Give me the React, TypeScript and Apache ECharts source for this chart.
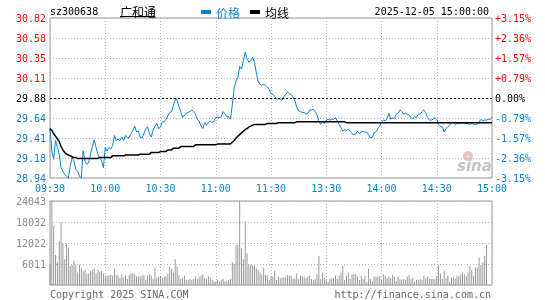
import React, { useEffect, useRef } from "react";
import * as echarts from "echarts";

const stockCode = "sz300638";
const stockName = "广和通";
const dateText = "2025-12-05 15:00:00";
const prevClose = 29.88;
const priceMin = 28.94;
const priceMax = 30.82;
const priceStep = 0.235;
const volMax = 24043;

const timeLabels = ["09:30", "10:00", "10:30", "11:00", "11:30", "13:30", "14:00", "14:30", "15:00"];
const priceLabels = ["28.94", "29.18", "29.41", "29.64", "29.88", "30.11", "30.35", "30.58", "30.82"];
const pctLabels = ["-3.15%", "-2.36%", "-1.57%", "-0.79%", "0.00%", "+0.79%", "+1.57%", "+2.36%", "+3.15%"];
const volLabels = ["", "6011", "12022", "18032", "24043"];

const price = [
  29.52, 29.26, 29.16, 29.38, 29.30, 29.22, 29.06, 29.02, 28.98, 28.96,
  28.94, 29.08, 29.18, 29.14, 29.04, 29.02, 28.96, 28.94, 29.26, 29.14,
  29.10, 29.12, 29.22, 29.31, 29.39, 29.30, 29.22, 29.18, 29.14, 29.06,
  29.30, 29.26, 29.30, 29.28, 29.32, 29.44, 29.38, 29.40, 29.38, 29.42,
  29.38, 29.44, 29.41, 29.42, 29.46, 29.50, 29.55, 29.48, 29.49, 29.42,
  29.41, 29.46, 29.52, 29.54, 29.46, 29.42, 29.50, 29.55, 29.58, 29.52,
  29.54, 29.60, 29.60, 29.63, 29.67, 29.71, 29.72, 29.79, 29.86, 29.86,
  29.78, 29.72, 29.65, 29.68, 29.70, 29.71, 29.72, 29.74, 29.72, 29.69,
  29.63, 29.61, 29.55, 29.52, 29.59, 29.56, 29.59, 29.61, 29.59, 29.61,
  29.65, 29.65, 29.65, 29.66, 29.72, 29.69, 29.66, 29.66, 29.63, 29.80,
  30.00, 30.08, 30.12, 30.25, 30.22, 30.32, 30.42, 30.34, 30.30, 30.32,
  30.36, 30.30, 30.18, 30.08, 30.04, 30.03, 30.04, 30.03, 30.01, 29.98,
  29.93, 29.92, 29.90, 29.87, 29.87, 29.87, 29.85, 29.90, 29.92, 29.95,
  29.93, 29.92, 29.89, 29.85, 29.77, 29.73, 29.72, 29.71, 29.71, 29.69,
  29.70, 29.74, 29.74, 29.75, 29.72, 29.68, 29.61, 29.57, 29.61, 29.58,
  29.62, 29.63, 29.62, 29.63, 29.63, 29.65, 29.61, 29.57, 29.53, 29.49,
  29.51, 29.50, 29.51, 29.49, 29.46, 29.45, 29.46, 29.49, 29.46, 29.48,
  29.49, 29.48, 29.48, 29.45, 29.41, 29.42, 29.47, 29.48, 29.52, 29.55,
  29.59, 29.62, 29.61, 29.64, 29.70, 29.63, 29.65, 29.64, 29.69, 29.70,
  29.74, 29.72, 29.69, 29.70, 29.69, 29.68, 29.65, 29.64, 29.66, 29.65,
  29.69, 29.69, 29.72, 29.74, 29.71, 29.65, 29.62, 29.62, 29.63, 29.65,
  29.63, 29.57, 29.55, 29.54, 29.48, 29.52, 29.54, 29.56, 29.59, 29.59,
  29.57, 29.58, 29.58, 29.58, 29.59, 29.58, 29.58, 29.58, 29.57, 29.58,
  29.57, 29.57, 29.57, 29.60, 29.63, 29.61, 29.62, 29.62, 29.63, 29.63,
  29.65,
];

const avgPrice = [
  29.52, 29.50, 29.46, 29.43, 29.40, 29.37, 29.31, 29.27, 29.24, 29.22,
  29.21, 29.20, 29.19, 29.18, 29.18, 29.17, 29.17, 29.17, 29.17, 29.17,
  29.17, 29.17, 29.17, 29.17, 29.17, 29.17, 29.17, 29.18, 29.18, 29.18,
  29.18, 29.18, 29.18, 29.18, 29.20, 29.20, 29.20, 29.20, 29.20, 29.20,
  29.20, 29.21, 29.21, 29.21, 29.21, 29.21, 29.21, 29.21, 29.21, 29.22,
  29.22, 29.22, 29.22, 29.22, 29.22, 29.24, 29.24, 29.24, 29.24, 29.24,
  29.25, 29.25, 29.25, 29.25, 29.27, 29.27, 29.27, 29.29, 29.29, 29.29,
  29.29, 29.31, 29.31, 29.31, 29.31, 29.31, 29.31, 29.31, 29.31, 29.33,
  29.33, 29.33, 29.33, 29.33, 29.33, 29.33, 29.33, 29.33, 29.33, 29.33,
  29.33, 29.34, 29.34, 29.34, 29.34, 29.34, 29.34, 29.34, 29.34, 29.36,
  29.38, 29.41, 29.43, 29.45, 29.47, 29.49, 29.51, 29.52, 29.54, 29.55,
  29.56, 29.57, 29.57, 29.57, 29.57, 29.57, 29.57, 29.57, 29.58, 29.58,
  29.58, 29.58, 29.58, 29.58, 29.59, 29.59, 29.59, 29.59, 29.59, 29.59,
  29.59, 29.59, 29.59, 29.59, 29.60, 29.60, 29.60, 29.60, 29.60, 29.60,
  29.60, 29.60, 29.60, 29.60, 29.60, 29.60, 29.60, 29.60, 29.60, 29.60,
  29.60, 29.60, 29.60, 29.60, 29.60, 29.60, 29.60, 29.60, 29.60, 29.60,
  29.60, 29.59, 29.59, 29.59, 29.59, 29.59, 29.59, 29.59, 29.59, 29.59,
  29.59, 29.59, 29.59, 29.59, 29.59, 29.59, 29.59, 29.59, 29.59, 29.59,
  29.59, 29.59, 29.59, 29.59, 29.59, 29.59, 29.59, 29.59, 29.59, 29.59,
  29.59, 29.59, 29.59, 29.59, 29.59, 29.59, 29.59, 29.59, 29.59, 29.59,
  29.59, 29.59, 29.59, 29.59, 29.59, 29.59, 29.59, 29.59, 29.59, 29.59,
  29.59, 29.59, 29.59, 29.59, 29.59, 29.59, 29.59, 29.59, 29.59, 29.59,
  29.59, 29.59, 29.59, 29.59, 29.59, 29.59, 29.59, 29.59, 29.59, 29.59,
  29.59, 29.59, 29.59, 29.59, 29.59, 29.59, 29.59, 29.59, 29.59, 29.59,
  29.59,
];

const volume = [
  6000, 24043, 16900, 8600, 6500, 12600, 17900, 11900, 7400, 11900,
  10700, 5500, 5700, 6900, 5900, 3600, 5900, 4800, 4000, 4300,
  3100, 3300, 4000, 4300, 4800, 3300, 4300, 3800, 4000, 3300,
  2700, 2700, 2700, 2900, 2700, 4600, 2900, 2700, 1900, 3100,
  2100, 2900, 1700, 2900, 3300, 3300, 3100, 2400, 2400, 2400,
  2700, 2900, 1400, 2700, 3100, 2700, 1700, 5000, 2100, 2400,
  2400, 2100, 2400, 2400, 3300, 5200, 4600, 3600, 7400, 5200,
  2700, 1700, 2100, 2700, 1400, 1400, 1700, 1400, 1700, 2400,
  1700, 2400, 2700, 3100, 2100, 1700, 2400, 2100, 1400, 1100,
  950, 1400, 1100, 1400, 1700, 950, 1100, 1400, 1700, 6500,
  6000, 11400, 11600, 24043, 10500, 7400, 18300, 9100, 5900, 5900,
  5700, 5500, 4800, 4300, 3600, 2900, 5000, 2900, 2700, 1400,
  2400, 2400, 4000, 1430, 2400, 1900, 2100, 2100, 2400, 2860,
  2670, 2670, 1700, 1900, 3340, 1700, 2670, 2400, 2400, 1900,
  2400, 2670, 1700, 1430, 1700, 3050, 8300, 1700, 3600, 2100,
  1430, 950, 1700, 1900, 1900, 2670, 1700, 2670, 3600, 5500,
  1430, 2670, 3600, 1700, 3050, 3050, 3050, 2400, 1430, 2670,
  1700, 2670, 760, 4600, 1700, 1150, 2400, 2400, 2400, 2400,
  1430, 3050, 2670, 1900, 2400, 1900, 2860, 2400, 1150, 2400,
  1700, 1430, 1700, 1430, 2400, 2860, 1700, 2100, 950, 1430,
  1430, 1700, 1430, 2670, 1900, 2400, 1700, 1700, 1700, 1700,
  2670, 5900, 3340, 1700, 4000, 1900, 2670, 950, 2100, 2400,
  1700, 2670, 2400, 3050, 3600, 3050, 2670, 3600, 5500, 4300,
  2670, 5000, 5000, 7800, 5700, 6500, 8400, 11450, 0, 0,
  0,
];

const BLUE = "#0a82d2";
const RED = "#ff0000";
const GRAY = "#8c8c8c";
const MONO = '"DejaVu Sans Mono", "Liberation Mono", monospace';
const CJK = '"Noto Sans CJK SC", "Noto Sans", sans-serif';

export default function App() {
  const ref = useRef<HTMLDivElement>(null);

  useEffect(() => {
    const chart = echarts.init(ref.current!, null, { renderer: "svg" });
    const idx = (v: number) => Math.round((v - priceMin) / priceStep);
    const colorAt = (i: number) => (i > 4 ? RED : i === 4 ? "#000" : BLUE);
    const volStep = volMax / 4;
    const dotted = { color: "#b4b4b4", type: [1, 2] as number[], width: 1 };

    chart.setOption({
      animation: false,
      grid: [
        { left: 50, top: 18, width: 442, height: 160, show: true, borderColor: "#999", borderWidth: 1 },
        { left: 50, top: 201, width: 442, height: 84, show: true, borderColor: "#999", borderWidth: 1 },
      ],
      legend: {
        left: 196,
        top: 1,
        icon: "rect",
        itemWidth: 10,
        itemHeight: 4,
        itemGap: 10,
        selectedMode: false,
        textStyle: { fontFamily: CJK, fontSize: 12, padding: [0, 0, 0, 0] },
        data: [
          { name: "价格", textStyle: { color: BLUE } },
          { name: "均线", textStyle: { color: "#000" } },
        ],
      },
      xAxis: [
        {
          type: "value",
          gridIndex: 0,
          min: 0,
          max: 240,
          interval: 30,
          axisLine: { show: false },
          axisTick: { show: false },
          splitLine: { show: true, lineStyle: dotted },
          axisLabel: {
            show: true,
            margin: 5,
            color: BLUE,
            fontFamily: MONO,
            fontSize: 10,
            showMinLabel: true,
            showMaxLabel: true,
            formatter: (v: number) => timeLabels[Math.round(v / 30)] ?? "",
          },
        },
        {
          type: "value",
          gridIndex: 1,
          min: 0,
          max: 240,
          interval: 30,
          axisLine: { show: false },
          axisTick: { show: false },
          axisLabel: { show: false },
          splitLine: { show: true, lineStyle: dotted },
        },
      ],
      yAxis: [
        {
          type: "value",
          gridIndex: 0,
          min: priceMin,
          max: priceMax,
          interval: priceStep,
          axisLine: { show: false },
          axisTick: { show: false },
          splitLine: { show: true, lineStyle: dotted },
          axisLabel: {
            margin: 4,
            fontFamily: MONO,
            fontSize: 10,
            showMinLabel: true,
            showMaxLabel: true,
            formatter: (v: number) => priceLabels[idx(v)] ?? "",
            color: (v: any) => colorAt(idx(Number(v))),
          },
        },
        {
          type: "value",
          gridIndex: 0,
          position: "right",
          min: priceMin,
          max: priceMax,
          interval: priceStep,
          axisLine: { show: false },
          axisTick: { show: false },
          splitLine: { show: false },
          axisLabel: {
            margin: 3,
            fontFamily: MONO,
            fontSize: 10,
            showMinLabel: true,
            showMaxLabel: true,
            formatter: (v: number) => pctLabels[idx(v)] ?? "",
            color: (v: any) => colorAt(idx(Number(v))),
          },
        },
        {
          type: "value",
          gridIndex: 1,
          min: 0,
          max: volMax,
          interval: volStep,
          axisLine: { show: false },
          axisTick: { show: false },
          splitLine: { show: true, lineStyle: dotted },
          axisLabel: {
            margin: 4,
            fontFamily: MONO,
            fontSize: 10,
            color: GRAY,
            showMinLabel: true,
            showMaxLabel: true,
            formatter: (v: number) => volLabels[Math.round(v / volStep)] ?? "",
          },
        },
      ],
      series: [
        {
          name: "价格",
          type: "line",
          xAxisIndex: 0,
          yAxisIndex: 0,
          data: price.map((p, i) => [i, p]),
          symbol: "none",
          color: BLUE,
          lineStyle: { color: BLUE, width: 1 },
          z: 3,
          markLine: {
            silent: true,
            symbol: "none",
            label: { show: false },
            lineStyle: { color: "#000", type: [2, 2], width: 1 },
            data: [{ yAxis: prevClose }],
          },
        },
        {
          name: "均线",
          type: "line",
          xAxisIndex: 0,
          yAxisIndex: 0,
          data: avgPrice.map((p, i) => [i, p]),
          symbol: "none",
          color: "#000",
          lineStyle: { color: "#000", width: 1.5 },
          z: 4,
        },
        {
          name: "成交量",
          type: "bar",
          xAxisIndex: 1,
          yAxisIndex: 2,
          data: volume.map((v, i) => [i, v]),
          barWidth: 1,
          itemStyle: { color: "#9a9a9a" },
        },
      ],
      graphic: [
        { type: "text", x: 50, y: 11, style: { text: stockCode, fill: "#000", font: `10px ${MONO}`, verticalAlign: "middle" } },
        { type: "text", x: 120, y: 11, style: { text: stockName, fill: "#000", font: `12px ${CJK}`, verticalAlign: "middle" } },
        { type: "line", shape: { x1: 120, y1: 16.5, x2: 155, y2: 16.5 }, style: { stroke: "#000", lineWidth: 1 } },
        { type: "text", x: 489, y: 11, style: { text: dateText, fill: "#000", font: `10px ${MONO}`, align: "right", verticalAlign: "middle" } },
        { type: "text", x: 50, y: 294, style: { text: "Copyright 2025 SINA.COM", fill: "#666", font: `10px ${MONO}`, verticalAlign: "middle" } },
        { type: "text", x: 491, y: 294, style: { text: "http://finance.sina.com.cn", fill: "#666", font: `10px ${MONO}`, align: "right", verticalAlign: "middle" } },
        { type: "circle", shape: { cx: 468, cy: 156, r: 5 }, style: { fill: "#f3c0c0" } },
        { type: "circle", shape: { cx: 468, cy: 157, r: 2 }, style: { fill: "#dcdcdc" } },
        { type: "text", x: 457, y: 166, style: { text: "sina", fill: "#c4c4c4", font: `italic bold 15px "DejaVu Sans", sans-serif`, verticalAlign: "middle" } },
      ],
    });

    return () => chart.dispose();
  }, []);

  return <div ref={ref} style={{ position: "fixed", left: 0, top: 0, width: 545, height: 300 }} />;
}
